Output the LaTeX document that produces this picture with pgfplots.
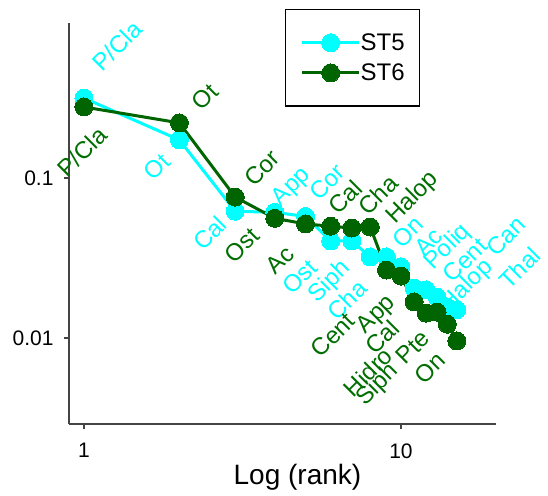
\documentclass[border=0pt]{standalone}
\usepackage{pgfplots}
\pgfplotsset{compat=1.18}
\usepackage{fontspec}
\setmainfont{Liberation Sans}
\definecolor{stfive}{HTML}{00FFFF}
\definecolor{stsix}{HTML}{006400}
\definecolor{labsix}{HTML}{006E00}
\definecolor{axgray}{HTML}{444444}
\newcommand{\lab}{\fontsize{24}{24}\selectfont}
\begin{document}
\begin{tikzpicture}
\useasboundingbox (0,0) rectangle (548pt,495pt);
\begin{axis}[
  at={(69pt,71pt)}, anchor=south west,
  scale only axis, width=427pt, height=401pt,
  xmode=log, ymode=log,
  xmin=0.897, xmax=19.94, ymin=0.0029, ymax=0.931,
  axis x line=bottom, axis y line=left,
  axis line style={-, color=axgray, line width=1.3pt},
  xtick={1,10}, xticklabels={1,10},
  ytick={0.01,0.1}, yticklabels={0.01,0.1},
  xminorticks=false, yminorticks=false,
  tick align=outside, major tick length=5pt,
  tick style={color=axgray, line width=1.3pt},
  ticklabel style={font=\fontsize{21}{21}\selectfont, text=black},
  xticklabel style={yshift=-11pt},
  yticklabel style={xshift=-7pt},
  xlabel={Log (rank)},
  xlabel style={font=\fontsize{28}{28}\selectfont, at={(axis description cs:0.535,0)}, anchor=north, yshift=-37pt},
  clip=false,
  legend style={at={(axis description cs:0.506,1.035)}, anchor=north west,
    draw=black, line width=1.2pt, font=\fontsize{24}{24}\selectfont,
    inner xsep=15pt, inner ysep=24pt, row sep=12pt,
    nodes={inner sep=0pt},
    /tikz/every even column/.append style={column sep=20pt}},
  legend cell align=left,
  legend image code/.code={\draw[mark repeat=2, mark phase=2] plot coordinates {(0pt,0pt) (28.5pt,0pt) (57pt,0pt)};},
]
\addplot[color=stfive, line width=3pt, mark=*, mark size=9pt, mark options={fill=stfive, draw=stfive, line width=0pt}] coordinates {
 (1,0.316) (2,0.173) (3,0.062) (4,0.061) (5,0.0575) (6,0.0404) (7,0.0404) (8,0.0321)
 (9,0.0321) (10,0.0278) (11,0.0205) (12,0.0200) (13,0.0180) (14,0.0156) (15,0.0150)};
\addplot[color=stsix, line width=3pt, mark=*, mark size=9pt, mark options={fill=stsix, draw=stsix, line width=0pt}] coordinates {
 (1,0.278) (2,0.221) (3,0.076) (4,0.056) (5,0.0516) (6,0.050) (7,0.0487) (8,0.0494)
 (9,0.0266) (10,0.0244) (11,0.0168) (12,0.0143) (13,0.0145) (14,0.0122) (15,0.00958)};
\legend{ST5, ST6}
% ST5 labels
\begin{scope}[every node/.style={rotate=45, inner sep=0pt, text=stfive, font=\lab}]
\node at (axis cs:1.271,0.668) {P/Cla};
\node at (axis cs:1.699,0.1172) {Ot};
\node at (axis cs:2.497,0.0453) {Cal};
\node at (axis cs:4.53,0.0879) {App};
\node at (axis cs:5.84,0.0944) {Cor};
\node at (axis cs:4.80,0.0241) {Ost};
\node at (axis cs:5.97,0.0224) {Siph};
\node at (axis cs:6.76,0.0173) {Cha};
\node at (axis cs:10.52,0.0460) {On};
\node at (axis cs:12.20,0.0398) {Ac};
\node at (axis cs:14.07,0.0370) {Poliq};
\node at (axis cs:15.92,0.0307) {Cent};
\node at (axis cs:21.40,0.0434) {Can};
\node at (axis cs:16.15,0.0211) {Halop};
\node at (axis cs:23.70,0.0274) {Thal};
\end{scope}
% ST6 labels
\begin{scope}[every node/.style={rotate=45, inner sep=0pt, text=labsix, font=\lab}]
\node at (axis cs:0.986,0.1454) {P/Cla};
\node at (axis cs:2.408,0.321) {Ot};
\node at (axis cs:3.643,0.1155) {Cor};
\node at (axis cs:3.15,0.0381) {Ost};
\node at (axis cs:4.152,0.0307) {Ac};
\node at (axis cs:6.66,0.0761) {Cal};
\node at (axis cs:8.46,0.0783) {Cha};
\node at (axis cs:10.9,0.075) {Halop};
\node at (axis cs:6.10,0.01044) {Cent};
\node at (axis cs:8.40,0.01393) {App};
\node at (axis cs:8.71,0.01015) {Cal};
\node at (axis cs:7.87,0.00613) {Hidro};
\node at (axis cs:8.46,0.00508) {Siph};
\node at (axis cs:10.9,0.00879) {Pte};
\node at (axis cs:12.35,0.0065) {On};
\end{scope}
\end{axis}
\end{tikzpicture}
\end{document}
